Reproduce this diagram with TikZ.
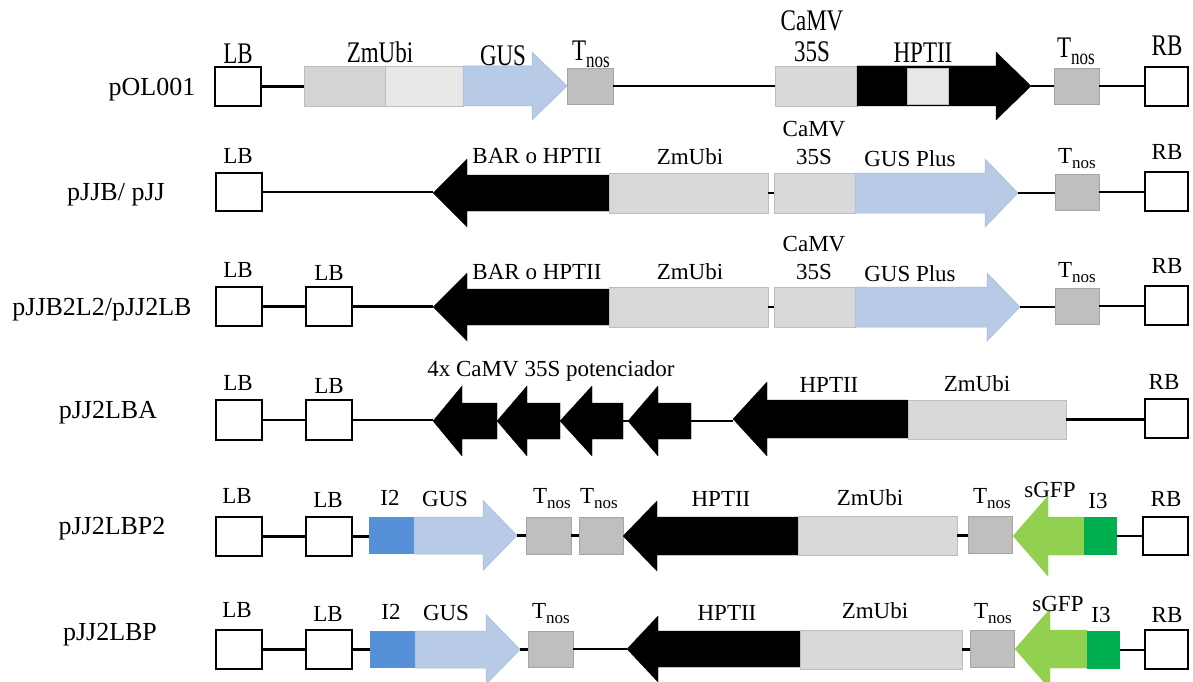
\documentclass[tikz,border=0pt]{standalone}
\usepackage{fontspec}
\usepackage{graphicx}
\setmainfont{Liberation Serif}
\usetikzlibrary{fit}

\definecolor{promfill}{HTML}{D9D9D9}
\definecolor{promedge}{HTML}{BDBDBD}
\definecolor{ubidark}{HTML}{D4D4D4}
\definecolor{ubilight}{HTML}{E8E8E8}
\definecolor{termfill}{HTML}{BFBFBF}
\definecolor{termedge}{HTML}{A5A5A5}
\definecolor{gusblue}{HTML}{B7CBE6}
\definecolor{gusedge}{HTML}{A3B9D8}
\definecolor{intronblue}{HTML}{5590D8}
\definecolor{gfpgreen}{HTML}{92D050}
\definecolor{introngreen}{HTML}{00B050}

% rectangular element spanning x1..x2, y1..y2
\newcommand\elem[6]{\node[#1, fit={(#3,#5) (#4,#6)}] (#2) {};}
% gene arrow: style, name, tail x, head base x, tip x, centre y, half body, half head
\newcommand\genearrow[8]{%
  \draw[#1] (#3,#6-#7) -- (#4,#6-#7) -- (#4,#6-#8) -- (#5,#6) -- (#4,#6+#8)
    -- (#4,#6+#7) -- (#3,#6+#7) -- cycle;
  \coordinate (#2tip) at (#5,#6);
  \coordinate (#2tail) at (#3,#6);}
% horizontal backbone segment from an anchor to the level of another
\newcommand\link[2]{\draw[bb] (#1) -- (#1 -| #2);}
\newcommand\tnos{T\raisebox{-5pt}{\fontsize{17}{17}\selectfont nos}}
\newcommand\tallt[1]{\scalebox{1}[1.3]{#1}}

\tikzset{
  blk/.style={rectangle, inner sep=0pt},
  border/.style={blk, draw=black, line width=1.6pt, fill=white},
  prom/.style={blk, fill=promfill, draw=promedge, line width=0.6pt},
  ubia/.style={blk, fill=ubidark, draw=promedge, line width=0.6pt},
  ubib/.style={blk, fill=ubilight, draw=promedge, line width=0.6pt},
  term/.style={blk, fill=termfill, draw=termedge, line width=0.6pt},
  intronb/.style={blk, fill=intronblue},
  introng/.style={blk, fill=introngreen},
  gus/.style={fill=gusblue, draw=gusedge, line width=0.5pt},
  selmark/.style={fill=black, draw=black, line width=0.3pt},
  gfp/.style={fill=gfpgreen, draw=gfpgreen, line width=0.3pt},
  bb/.style={line width=2.5pt, black},
  lbl/.style={font=\fontsize{23}{26}\selectfont, anchor=base, inner sep=0pt},
  rowname/.style={font=\fontsize{26}{30}\selectfont, anchor=base, inner sep=0pt},
}

\begin{document}
\begin{tikzpicture}[x=1pt, y=-1pt]
\useasboundingbox[fill=white] (0,0) rectangle (1193,682);

% ---------------- pOL001
\node[rowname] (n1) at (152,96) {pOL001};
\elem{border}{r1lb}{215}{261}{67}{106}
\elem{ubia}{r1zma}{304}{385}{66}{106}
\elem{ubib}{r1zmb}{385}{463}{66}{106}
\genearrow{gus}{r1gus}{463}{532}{567}{86}{20}{34}
\elem{term}{r1tn}{567}{613}{68}{104}
\elem{prom}{r1camv}{775}{857}{66}{106}
\genearrow{selmark}{r1hpt}{857}{996}{1031}{86}{20}{34}
\elem{ubib}{r1hptin}{907}{948}{68}{104}
\elem{term}{r1tnb}{1054}{1099}{68}{104}
\elem{border}{r1rb}{1145}{1188}{67}{106}
\link{r1lb.east}{r1zma.west}
\link{r1tn.east}{r1camv.west}
\link{r1hpttip}{r1tnb.west}
\link{r1tnb.east}{r1rb.west}
\node[lbl] (t1a) at (238,64) {\tallt{LB}};
\node[lbl] (t1b) at (380,63) {\tallt{ZmUbi}};
\node[lbl] (t1c) at (503,66) {\tallt{GUS}};
\node[lbl] (t1d) at (591,61) {\tallt{\tnos}};
\node[lbl] (t1e) at (812,31) {\tallt{CaMV}};
\node[lbl] (t1f) at (812,62) {\tallt{35S}};
\node[lbl] (t1g) at (923,63) {\tallt{HPTII}};
\node[lbl] (t1h) at (1076,58) {\tallt{\tnos}};
\node[lbl] (t1i) at (1167,56) {\tallt{RB}};

% ---------------- pJJB/ pJJ
\node[rowname] (n2) at (116,200) {pJJB/ pJJ};
\elem{border}{r2lb}{216}{262}{173}{211}
\genearrow{selmark}{r2bar}{609}{467}{433}{193}{18}{34}
\elem{prom}{r2zm}{609}{768}{173}{213}
\elem{prom}{r2camv}{774}{855}{173}{213}
\genearrow{gus}{r2gus}{855}{985}{1018}{193}{20}{34}
\elem{term}{r2tn}{1055}{1099}{174}{210}
\elem{border}{r2rb}{1145}{1188}{172}{211}
\link{r2lb.east}{r2bartip}
\link{r2zm.east}{r2camv.west}
\link{r2gustip}{r2tn.west}
\link{r2tn.east}{r2rb.west}
\node[lbl] (t2a) at (238,163) {LB};
\node[lbl] (t2b) at (537,163) {BAR o HPTII};
\node[lbl] (t2c) at (690,164) {ZmUbi};
\node[lbl] (t2d) at (814,136) {CaMV};
\node[lbl] (t2e) at (814,164) {35S};
\node[lbl] (t2f) at (910,166) {GUS Plus};
\node[lbl] (t2g) at (1077,163) {\tnos};
\node[lbl] (t2h) at (1167,159) {RB};

% ---------------- pJJB2L2/pJJ2LB
\node[rowname] (n3) at (102,315) {pJJB2L2/pJJ2LB};
\elem{border}{r3lba}{216}{262}{287}{326}
\elem{border}{r3lbb}{306}{352}{287}{326}
\genearrow{selmark}{r3bar}{609}{467}{433}{307}{18}{34}
\elem{prom}{r3zm}{609}{768}{287}{327}
\elem{prom}{r3camv}{774}{855}{287}{327}
\genearrow{gus}{r3gus}{855}{987}{1020}{307}{20}{34}
\elem{term}{r3tn}{1055}{1099}{288}{324}
\elem{border}{r3rb}{1145}{1188}{286}{325}
\link{r3lba.east}{r3lbb.west}
\link{r3lbb.east}{r3bartip}
\link{r3zm.east}{r3camv.west}
\link{r3gustip}{r3tn.west}
\link{r3tn.east}{r3rb.west}
\node[lbl] (t3a) at (238,277) {LB};
\node[lbl] (t3b) at (329,280) {LB};
\node[lbl] (t3c) at (537,279) {BAR o HPTII};
\node[lbl] (t3d) at (690,279) {ZmUbi};
\node[lbl] (t3e) at (814,251) {CaMV};
\node[lbl] (t3f) at (814,279) {35S};
\node[lbl] (t3g) at (910,281) {GUS Plus};
\node[lbl] (t3h) at (1077,277) {\tnos};
\node[lbl] (t3i) at (1167,273) {RB};

% ---------------- pJJ2LBA
\node[rowname] (n4) at (108,418) {pJJ2LBA};
\elem{border}{r4lba}{216}{262}{400}{440}
\elem{border}{r4lbb}{306}{352}{400}{440}
\genearrow{selmark}{r4ea}{497}{462}{433}{421}{18}{35}
\genearrow{selmark}{r4eb}{560}{527}{497}{421}{18}{35}
\genearrow{selmark}{r4ec}{623}{592}{560}{421}{18}{35}
\genearrow{selmark}{r4ed}{691}{658}{628}{421}{18}{35}
\genearrow{selmark}{r4hpt}{908}{767}{733}{419}{19}{37}
\elem{prom}{r4zm}{908}{1066}{400}{439}
\elem{border}{r4rb}{1145}{1188}{399}{438}
\link{r4lba.east}{r4lbb.west}
\link{r4lbb.east}{r4eatip}
\link{r4ectail}{r4edtip}
\link{r4edtail}{r4hpttip}
\link{r4zm.east}{r4rb.west}
\node[lbl] (t4a) at (238,390) {LB};
\node[lbl] (t4b) at (329,393) {LB};
\node[lbl] (t4c) at (551,376) {4x CaMV 35S potenciador};
\node[lbl] (t4d) at (829,392) {HPTII};
\node[lbl] (t4e) at (977,391) {ZmUbi};
\node[lbl] (t4f) at (1164,389) {RB};

% ---------------- pJJ2LBP2
\node[rowname] (n5) at (112,534) {pJJ2LBP2};
\elem{border}{r5lba}{216}{262}{517}{556}
\elem{border}{r5lbb}{306}{352}{517}{556}
\elem{intronb}{r5itwo}{369}{414}{517}{554}
\genearrow{gus}{r5gus}{414}{483}{517}{535.5}{18.5}{35}
\elem{term}{r5tna}{526}{571}{517}{554}
\elem{term}{r5tnb}{579}{623}{517}{554}
\genearrow{selmark}{r5hpt}{798}{657}{623}{536}{19}{35}
\elem{prom}{r5zm}{798}{957}{516}{555}
\elem{term}{r5tnc}{968}{1012}{516}{553}
\genearrow{gfp}{r5gfp}{1084}{1048}{1013}{536}{19}{40}
\elem{introng}{r5ithree}{1084}{1117}{517}{555}
\elem{border}{r5rb}{1143}{1188}{517}{555}
\link{r5lba.east}{r5lbb.west}
\link{r5lbb.east}{r5itwo.west}
\link{r5gustip}{r5tna.west}
\link{r5tna.east}{r5tnb.west}
\link{r5zm.east}{r5tnc.west}
\link{r5ithree.east}{r5rb.west}
\node[lbl] (t5a) at (237,503) {LB};
\node[lbl] (t5b) at (328,507) {LB};
\node[lbl] (t5c) at (390,505) {I2};
\node[lbl] (t5d) at (445,506) {GUS};
\node[lbl] (t5e) at (552,503) {\tnos};
\node[lbl] (t5f) at (599,503) {\tnos};
\node[lbl] (t5g) at (721,506) {HPTII};
\node[lbl] (t5h) at (870,505) {ZmUbi};
\node[lbl] (t5i) at (992,503) {\tnos};
\node[lbl] (t5j) at (1050,497) {sGFP};
\node[lbl] (t5k) at (1098,508) {I3};
\node[lbl] (t5l) at (1166,506) {RB};

% ---------------- pJJ2LBP
\node[rowname] (n6) at (110,640) {pJJ2LBP};
\elem{border}{r6lba}{216}{262}{630}{669}
\elem{border}{r6lbb}{306}{352}{630}{669}
\elem{intronb}{r6itwo}{370}{415}{631}{668}
\genearrow{gus}{r6gus}{415}{486}{520}{649.5}{18.5}{35}
\elem{term}{r6tn}{528}{573}{631}{667}
\genearrow{selmark}{r6hpt}{800}{658}{627}{649}{18}{33}
\elem{prom}{r6zm}{800}{962}{630}{669}
\elem{term}{r6tnc}{970}{1014}{630}{667}
\genearrow{gfp}{r6gfp}{1087}{1050}{1015}{649}{19}{40}
\elem{introng}{r6ithree}{1087}{1120}{631}{669}
\elem{border}{r6rb}{1145}{1188}{630}{669}
\link{r6lba.east}{r6lbb.west}
\link{r6lbb.east}{r6itwo.west}
\link{r6gustip}{r6tn.west}
\link{r6tn.east}{r6hpttip}
\link{r6zm.east}{r6tnc.west}
\link{r6ithree.east}{r6rb.west}
\node[lbl] (t6a) at (237,617) {LB};
\node[lbl] (t6b) at (328,621) {LB};
\node[lbl] (t6c) at (391,619) {I2};
\node[lbl] (t6d) at (446,620) {GUS};
\node[lbl] (t6e) at (551,618) {\tnos};
\node[lbl] (t6f) at (727,620) {HPTII};
\node[lbl] (t6g) at (875,618) {ZmUbi};
\node[lbl] (t6h) at (993,618) {\tnos};
\node[lbl] (t6i) at (1058,611) {sGFP};
\node[lbl] (t6j) at (1101,622) {I3};
\node[lbl] (t6k) at (1167,622) {RB};
\end{tikzpicture}
\end{document}
